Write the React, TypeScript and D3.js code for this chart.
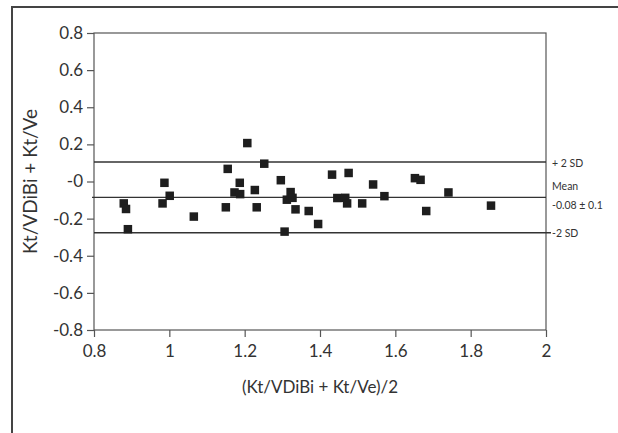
import React, { useRef, useEffect } from "react"
import * as d3 from "d3"

// Bland-Altman points: mean of the two methods (x) vs difference (y)
const meanValues = [
  0.879, 0.885, 0.890, 0.982, 0.987, 1.001, 1.065, 1.150, 1.155, 1.173,
  1.187, 1.188, 1.207, 1.227, 1.232, 1.252, 1.296, 1.306, 1.312, 1.322,
  1.327, 1.335, 1.370, 1.395, 1.432, 1.446, 1.467, 1.472, 1.476, 1.512,
  1.541, 1.571, 1.652, 1.667, 1.682, 1.741, 1.854,
]
const diffValues = [
  -0.118, -0.148, -0.257, -0.118, -0.007, -0.077, -0.189, -0.139, 0.068, -0.059,
  -0.007, -0.068, 0.207, -0.046, -0.139, 0.096, 0.007, -0.270, -0.098, -0.057,
  -0.088, -0.150, -0.159, -0.229, 0.037, -0.089, -0.088, -0.118, 0.046, -0.118,
  -0.016, -0.079, 0.018, 0.009, -0.159, -0.059, -0.130,
]

const xTicks = [0.8, 1, 1.2, 1.4, 1.6, 1.8, 2]
const yTicks = [0.8, 0.6, 0.4, 0.2, 0, -0.2, -0.4, -0.6, -0.8]
const yTickLabels = ["0.8", "0.6", "0.4", "0.2", "-0", "-0.2", "-0.4", "-0.6", "-0.8"]

const refLines = [0.105, -0.085, -0.276]

const App = () => {
  let element = useRef<SVGSVGElement>(null)

  useEffect(() => {
    let width = 618, height = 433
    let margin = { top: 33, right: 70, bottom: 103, left: 94 }

    let svg = d3.select(element.current)
    svg.selectAll("*").remove()

    let font = "Lato, 'Open Sans', sans-serif"
    let ink = "#333"

    // outer frame: top and left edges only
    svg.append("path")
      .attr("d", "M12,433 L12,7 L618,7")
      .attr("fill", "none")
      .attr("stroke", "#444")
      .attr("stroke-width", 2)

    let x = d3.scaleLinear()
      .domain([0.8, 2])
      .range([margin.left, width - margin.right - 2])

    let y = d3.scaleLinear()
      .domain([-0.8, 0.8])
      .range([height - margin.bottom, margin.top])

    let g = svg.append("g")

    // plot box
    g.append("rect")
      .attr("x", x(0.8))
      .attr("y", y(0.8))
      .attr("width", x(2) - x(0.8))
      .attr("height", y(-0.8) - y(0.8))
      .attr("fill", "none")
      .attr("stroke", "#555")
      .attr("stroke-width", 1.2)

    g.append("g")
      .attr("transform", `translate(0,${y(-0.8)})`)
      .call(d3.axisBottom(x).tickValues(xTicks).tickSize(7).tickFormat(d => String(d)))
      .call(a => a.select(".domain").remove())
      .call(a => a.selectAll(".tick line").attr("stroke", "#555").attr("stroke-width", 1.2))
      .call(a => a.selectAll(".tick text")
        .attr("y", 15)
        .attr("font-family", font)
        .attr("font-size", 17)
        .attr("fill", ink))

    g.append("g")
      .attr("transform", `translate(${x(0.8)},0)`)
      .call(d3.axisLeft(y).tickValues(yTicks).tickSize(7)
        .tickFormat((d, i) => yTickLabels[i]))
      .call(a => a.select(".domain").remove())
      .call(a => a.selectAll(".tick line").attr("stroke", "#555").attr("stroke-width", 1.2))
      .call(a => a.selectAll(".tick text")
        .attr("x", -11)
        .attr("font-family", font)
        .attr("font-size", 17)
        .attr("fill", ink))

    // mean and limits of agreement
    g.selectAll(".ref")
      .data(refLines)
      .enter()
      .append("line")
        .attr("x1", (d, i) => i === 1 ? x(0.8) - 2 : x(0.8))
        .attr("x2", (d, i) => i === 2 ? x(2) + 5 : x(2))
        .attr("y1", d => y(d))
        .attr("y2", d => y(d))
        .attr("stroke", "#333")
        .attr("stroke-width", 1.3)

    let labels = [
      { text: "+ 2 SD", v: refLines[0], dy: 5 },
      { text: "Mean", v: refLines[1], dy: -7 },
      { text: "-0.08 \u00b1 0.1", v: refLines[1], dy: 12 },
      { text: "-2 SD", v: refLines[2], dy: 4 },
    ]
    g.selectAll(".reflabel")
      .data(labels)
      .enter()
      .append("text")
        .attr("x", x(2) + 6)
        .attr("y", d => y(d.v) + d.dy)
        .attr("font-family", font)
        .attr("font-size", 10.5)
        .attr("fill", ink)
        .text(d => d.text)

    let size = 8.5
    g.selectAll(".pt")
      .data(meanValues)
      .enter()
      .append("rect")
        .attr("x", d => x(d) - size / 2)
        .attr("y", (d, i) => y(diffValues[i]) - size / 2)
        .attr("width", size)
        .attr("height", size)
        .attr("fill", "#1e1e1e")

    svg.append("text")
      .attr("x", (x(0.8) + x(2)) / 2)
      .attr("y", 393)
      .attr("text-anchor", "middle")
      .attr("font-family", font)
      .attr("font-size", 17)
      .attr("fill", ink)
      .text("(Kt/VDiBi + Kt/Ve)/2")

    svg.append("text")
      .attr("transform", `translate(37,${y(0)}) rotate(-90)`)
      .attr("text-anchor", "middle")
      .attr("font-family", font)
      .attr("font-size", 19)
      .attr("fill", ink)
      .text("Kt/VDiBi + Kt/Ve")
  }, [])

  return (
    <svg ref={element} width={618} height={433}
      style={{ position: "absolute", left: 0, top: 0, background: "#fff" }} />
  )
}

export default App
